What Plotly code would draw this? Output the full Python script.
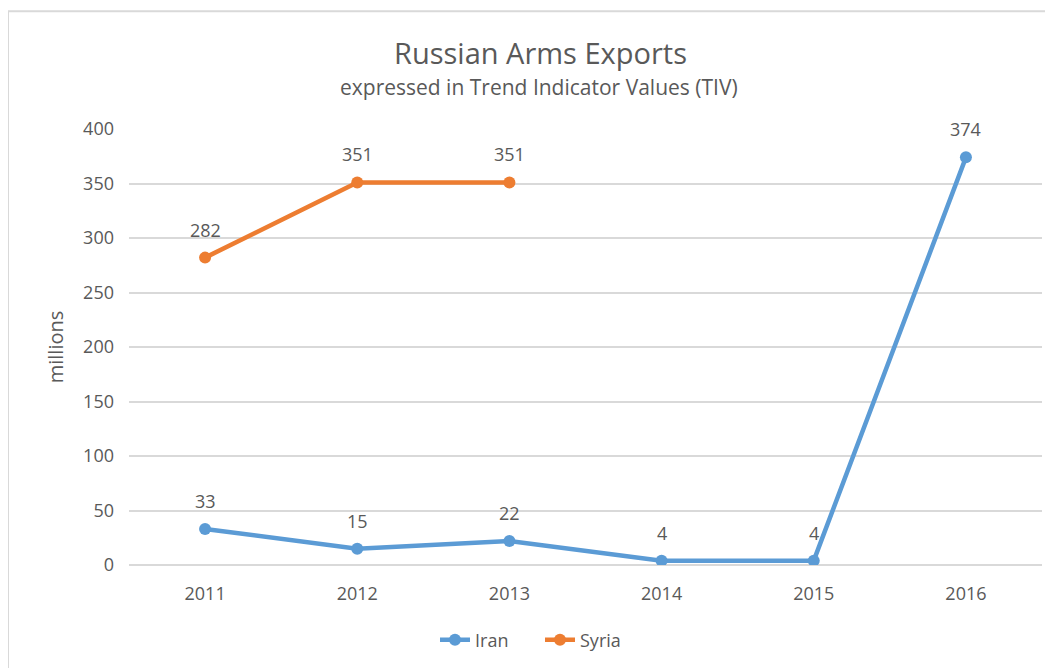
import plotly.graph_objects as go

years = ["2011", "2012", "2013", "2014", "2015", "2016"]
iran = [33, 15, 22, 4, 4, 374]
syria_years = ["2011", "2012", "2013"]
syria = [282, 351, 351]

IRAN_C = "#5B9BD5"
SYRIA_C = "#ED7D31"
TXT = "#595959"
FONT = "Open Sans"

OFF = 8  # browser body margin
W, H = 1053 - OFF, 668 - OFF
ML, MR, MT, MB = 129 - OFF, 11, 129 - OFF, 102
PW, PH = W - ML - MR, H - MT - MB

def px_x(px):
    return (px - OFF - ML) / PW

def px_y(py):
    return (H - MB - (py - OFF)) / PH

fig = go.Figure()
fig.add_trace(go.Scatter(x=years, y=iran, name="Iran", mode="lines+markers",
                         line=dict(color=IRAN_C, width=4.5),
                         marker=dict(color=IRAN_C, size=12)))
fig.add_trace(go.Scatter(x=syria_years, y=syria, name="Syria", mode="lines+markers",
                         line=dict(color=SYRIA_C, width=4.5),
                         marker=dict(color=SYRIA_C, size=12)))

annotations = []
for xs, ys in ((years, iran), (syria_years, syria)):
    for xv, yv in zip(xs, ys):
        annotations.append(dict(x=years.index(xv), y=yv, xref="x", yref="y", text=str(yv),
                                showarrow=False, yshift=28,
                                font=dict(family=FONT, size=18, color=TXT)))

annotations.append(dict(x=px_x(540), y=px_y(52), xref="paper", yref="paper",
                        text="Russian Arms Exports", showarrow=False,
                        xanchor="center", yanchor="middle",
                        font=dict(family=FONT, size=29, color=TXT)))
annotations.append(dict(x=px_x(539), y=px_y(87), xref="paper", yref="paper",
                        text="expressed in Trend Indicator Values (TIV)", showarrow=False,
                        xanchor="center", yanchor="middle",
                        font=dict(family=FONT, size=21, color=TXT)))

fig.update_layout(
    width=W, height=H,
    margin=dict(l=ML, r=MR, t=MT, b=MB),
    paper_bgcolor="white", plot_bgcolor="white",
    font=dict(family=FONT, size=18, color=TXT),
    showlegend=True,
    legend=dict(orientation="h", x=px_x(540), y=px_y(640), xanchor="center",
                yanchor="middle", font=dict(family=FONT, size=18, color=TXT),
                entrywidth=60, entrywidthmode="pixels",
                bgcolor="rgba(0,0,0,0)"),
    annotations=annotations,
    hovermode=False,
    shapes=[dict(type="rect", xref="paper", yref="paper",
                 x0=px_x(8), y0=px_y(700), x1=px_x(1100), y1=px_y(11),
                 line=dict(color="#d9d9d9", width=2), fillcolor="rgba(0,0,0,0)",
                 layer="below")],
)
fig.update_xaxes(type="category", categoryorder="array", categoryarray=years,
                 range=[-0.5, 5.5], showgrid=False, zeroline=False, showline=False,
                 ticks="", ticklabelstandoff=16,
                 tickfont=dict(family=FONT, size=18, color=TXT))
fig.update_yaxes(range=[0, 400], dtick=50, showgrid=True, gridcolor="#d9d9d9",
                 gridwidth=1.5, zeroline=True, zerolinecolor="#d9d9d9", zerolinewidth=1.5,
                 showline=False, ticks="", ticklabelstandoff=14,
                 tickfont=dict(family=FONT, size=18, color=TXT),
                 title=dict(text="millions", standoff=14,
                            font=dict(family=FONT, size=20, color=TXT)))

fig.write_html("out.html")
